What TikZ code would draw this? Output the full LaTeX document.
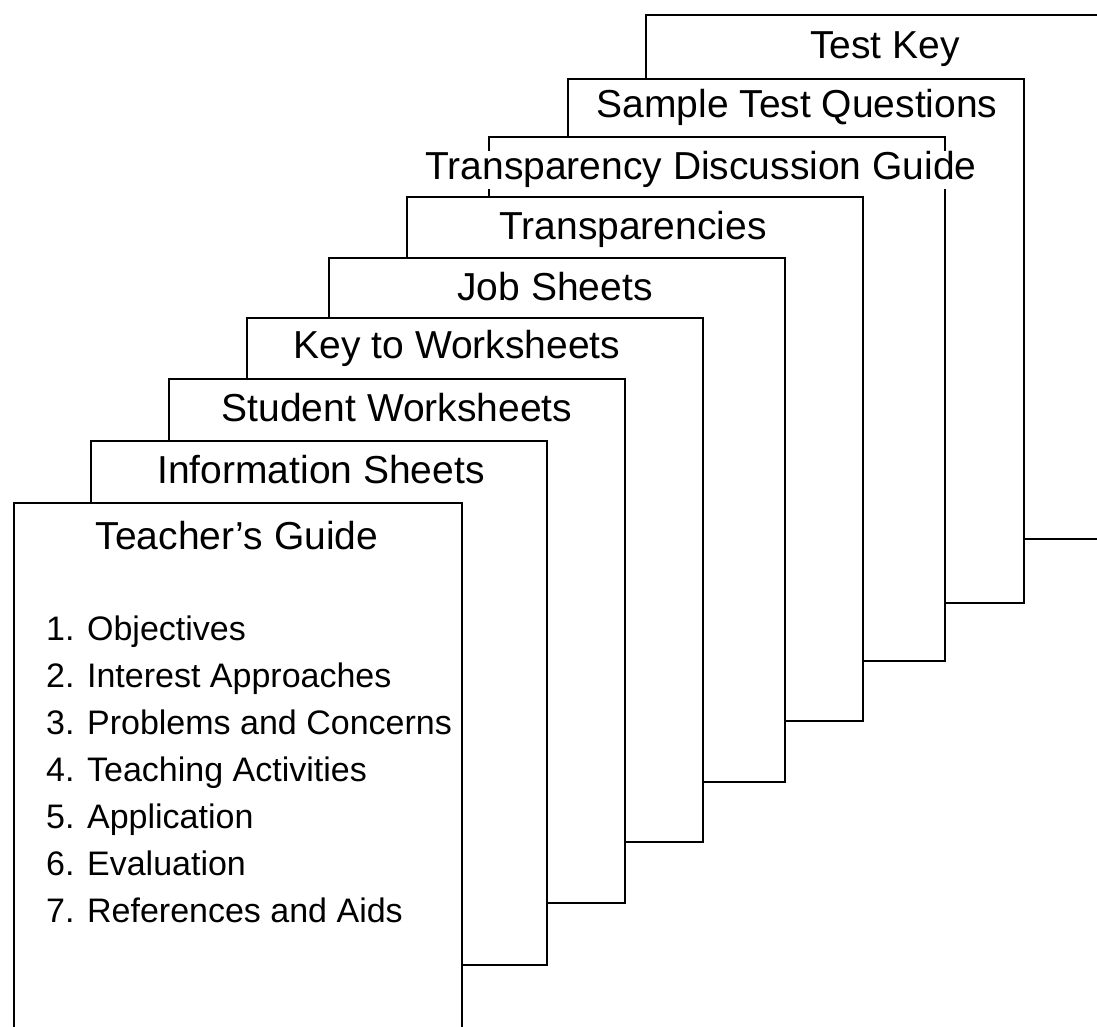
\documentclass[tikz,border=0pt]{standalone}
\usepackage{fontspec}
\setmainfont{Liberation Sans}
\usetikzlibrary{positioning}

\tikzset{
  sheet/.style={draw=black,fill=white,line width=2.7pt,inner sep=0pt,outer sep=0pt,
    minimum width=456pt,minimum height=524pt,anchor=north west},
  tabname/.style={anchor=base,fill=white,inner sep=1pt,font=\fontsize{39}{46}\selectfont},
  item/.style={anchor=base west,inner sep=0pt,font=\fontsize{34}{40}\selectfont},
}

\begin{document}
\begin{tikzpicture}[x=1pt,y=-1pt]
\useasboundingbox (0,0) rectangle (1097,1027);
\clip (0,0) rectangle (1097,1027);
% pages, back to front
\node[sheet] (testkey) at (646,15) {};
\node[tabname] (testkeyT) at (885,59) {Test Key};
\node[sheet] (sample) at (568,79) {};
\node[tabname] (sampleT) at (797,118) {Sample Test Questions};
\node[sheet] (discuss) at (489,137) {};
\node[tabname] (discussT) at (701,180) {Transparency Discussion Guide};
\node[sheet] (transp) at (407,197) {};
\node[tabname] (transpT) at (633,240) {Transparencies};
\node[sheet] (jobs) at (329,258) {};
\node[tabname] (jobsT) at (555,300) {Job Sheets};
\node[sheet] (keyws) at (247,318) {};
\node[tabname] (keywsT) at (457,358) {Key to Worksheets};
\node[sheet] (studws) at (169,379) {};
\node[tabname] (studwsT) at (397,421) {Student Worksheets};
\node[sheet] (info) at (91,441) {};
\node[tabname] (infoT) at (321,483) {Information Sheets};
\node[sheet,minimum width=448pt,minimum height=560pt] (guide) at (14,503) {};
\node[tabname] (guideT) at (237,549) {Teacher’s Guide};
% contents of the guide
\node[item] (obj) at (46,640) {1. Objectives};
\node[item] (interest) at (46,687) {2. Interest Approaches};
\node[item] (problems) at (46,734) {3. Problems and Concerns};
\node[item] (teaching) at (46,781) {4. Teaching Activities};
\node[item] (applic) at (46,828) {5. Application};
\node[item] (evalu) at (46,875) {6. Evaluation};
\node[item] (refs) at (46,922) {7. References and Aids};
\end{tikzpicture}
\end{document}
